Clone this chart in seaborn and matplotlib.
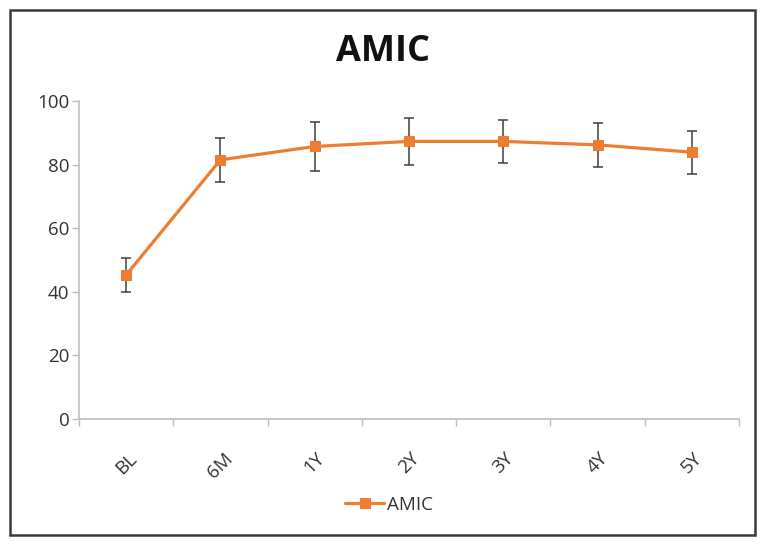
import matplotlib
matplotlib.use('Agg')
import matplotlib.pyplot as plt
import seaborn as sns
import pandas as pd
import numpy as np
from matplotlib.patches import Rectangle

categories = ['BL', '6M', '1Y', '2Y', '3Y', '4Y', '5Y']
means = [45.3, 81.5, 85.7, 87.3, 87.3, 86.2, 83.9]
errors = [5.4, 7.0, 7.6, 7.4, 6.8, 7.0, 6.7]
series_name = 'AMIC'
title = 'AMIC'
yticks = [0, 20, 40, 60, 80, 100]

sns.set_theme(style='white')
plt.rcParams['font.family'] = ['Open Sans', 'DejaVu Sans']

df = pd.DataFrame({'time': categories, 'score': means})

W, H = 766, 546
fig = plt.figure(figsize=(W / 100, H / 100), dpi=100)
ax = fig.add_axes([79 / W, 1 - 419 / H, (739 - 79) / W, (419 - 101) / H])

orange = '#ED7D31'
ax.errorbar(df['time'], df['score'], yerr=errors, fmt='none', ecolor='#3f3f3f',
            elinewidth=1.1, capsize=3.8, capthick=1.1, zorder=2)
sns.lineplot(data=df, x='time', y='score', ax=ax, color=orange, linewidth=2.3,
             marker='s', markersize=6.5, markeredgecolor=orange, label=series_name,
             zorder=3, sort=False)

fs = 13.5
ax.set_xlim(-0.5, len(categories) - 0.5)
ax.set_ylim(0, 100)
ax.set_yticks(yticks)
ax.set_yticklabels([str(t) for t in yticks])
ax.set_xticks(range(len(categories)))
ax.set_xticklabels(categories, rotation=45, ha='center', va='top')
ax.set_xticks(np.arange(-0.5, len(categories)), minor=True)
ax.tick_params(axis='x', which='major', length=0, pad=22, labelsize=fs, labelcolor='#333333')
ax.tick_params(axis='x', which='minor', length=5, width=1, color='#BFBFBF', direction='out', bottom=True)
ax.tick_params(axis='y', length=5, width=1, color='#BFBFBF', direction='out', left=True,
               labelsize=fs, labelcolor='#333333', pad=2)
ax.set_xlabel('')
ax.set_ylabel('')
for s in ['top', 'right']:
    ax.spines[s].set_visible(False)
for s in ['left', 'bottom']:
    ax.spines[s].set_color('#BFBFBF')
    ax.spines[s].set_linewidth(1.2)

fig.text(0.5, 1 - 52 / H, title, ha='center', va='center', fontsize=26,
         fontweight='bold', color='#111111')

handles, labels = ax.get_legend_handles_labels()
ax.get_legend().remove()
fig.legend(handles, labels, loc='center', bbox_to_anchor=(0.508, 1 - 505 / H),
           frameon=False, fontsize=fs, handlelength=2.1, handletextpad=0.15,
           labelcolor='#333333')

fig.patches.append(Rectangle((10 / W, 1 - 535 / H), (755 - 10) / W, (535 - 10) / H,
                             transform=fig.transFigure, fill=False,
                             edgecolor='#3a3a3a', linewidth=1.8))

fig.savefig('out.png', dpi=100, facecolor='white')
